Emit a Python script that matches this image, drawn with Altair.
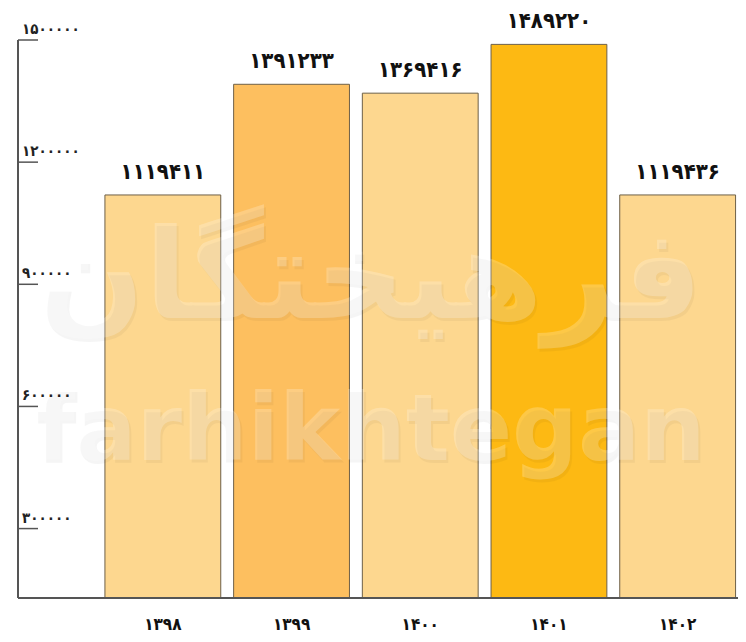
import altair as alt
import pandas as pd

years = ["1398", "1399", "1400", "1401", "1402"]
values = [1119411, 1391233, 1369416, 1489220, 1119436]
bar_colors = ["#FDD78F", "#FDBF5F", "#FDD78F", "#FDB913", "#FDD78F"]
tick_values = [300000, 600000, 900000, 1200000, 1500000]

FA = str.maketrans("0123456789", "۰۱۲۳۴۵۶۷۸۹")
def fa(x):
    return str(x).translate(FA)

df = pd.DataFrame({
    "year": years,
    "year_fa": [fa(y) for y in years],
    "value": values,
    "label": [fa(v) for v in values],
    "color": bar_colors,
})
ticks = pd.DataFrame({"v": tick_values, "label": [fa(v) for v in tick_values]})

W, H = 720, 558
YMIN = 129500
yscale = alt.Scale(domain=[YMIN, 1500000], zero=False, nice=False)
xscale = alt.Scale(range=[80.5, 724], paddingInner=0.1, paddingOuter=0.05)
FONT = "DejaVu Sans Condensed, DejaVu Sans"
order = [fa(y) for y in years]

x_enc = alt.X("year_fa:N", sort=order, scale=xscale,
              axis=alt.Axis(title=None, ticks=False, domain=False,
                            labelFont=FONT, labelFontSize=17, labelFontWeight="bold",
                            labelColor="#111", labelPadding=18, labelAngle=0))

bars = alt.Chart(df).mark_bar(clip=True, stroke="#6e6048", strokeWidth=1).encode(
    x=x_enc,
    y=alt.Y("value:Q", scale=yscale, axis=None),
    color=alt.Color("color:N", scale=None),
)

vlabels = alt.Chart(df).mark_text(font=FONT, fontSize=22, fontWeight="bold",
                                   color="#111", baseline="bottom", dy=-11).encode(
    x=alt.X("year_fa:N", sort=order, scale=xscale),
    y=alt.Y("value:Q", scale=yscale),
    text="label:N",
)

tick_rules = alt.Chart(ticks).mark_rule(color="#555", strokeWidth=1.5).encode(
    x=alt.value(0), x2=alt.value(20),
    y=alt.Y("v:Q", scale=yscale),
)
tick_text = alt.Chart(ticks).mark_text(font=FONT, fontSize=15, fontWeight="bold",
                                        color="#222", align="left", baseline="bottom",
                                        dy=-3).encode(
    x=alt.value(4),
    y=alt.Y("v:Q", scale=yscale),
    text="label:N",
)

yaxis_line = alt.Chart(ticks).mark_rule(color="#555", strokeWidth=2).encode(
    x=alt.value(0), y=alt.value(0), y2=alt.value(H),
)
xaxis_line = alt.Chart(ticks).mark_rule(color="#555", strokeWidth=2).encode(
    x=alt.value(0), x2=alt.value(W + 10), y=alt.value(H),
)

wm = pd.DataFrame({"t": ["فرهیختگان", "farhikhtegan"], "yy": [240, 392], "fs": [125, 92]})
wm_shadow = alt.Chart(wm).mark_text(font="DejaVu Sans", fontWeight="bold",
                                    color="#000000", opacity=0.035, dx=2, dy=3).encode(
    x=alt.value(352), y=alt.Y("yy:Q", scale=None), text="t:N",
    size=alt.Size("fs:Q", scale=None),
)
wm1 = alt.Chart(wm).mark_text(font="DejaVu Sans", fontWeight="bold",
                              color="#ffffff", opacity=0.22).encode(
    x=alt.value(352), y=alt.Y("yy:Q", scale=None), text="t:N",
    size=alt.Size("fs:Q", scale=None),
)

chart = alt.layer(bars, wm_shadow, wm1, vlabels, tick_rules, tick_text, yaxis_line, xaxis_line).properties(
    width=W, height=H,
    autosize=alt.AutoSizeParams(type="none"),
    padding={"left": 10, "top": 32, "right": 0, "bottom": 36},
).configure_view(stroke=None)

chart.save("out.html", embed_options={"renderer": "svg", "actions": False})
